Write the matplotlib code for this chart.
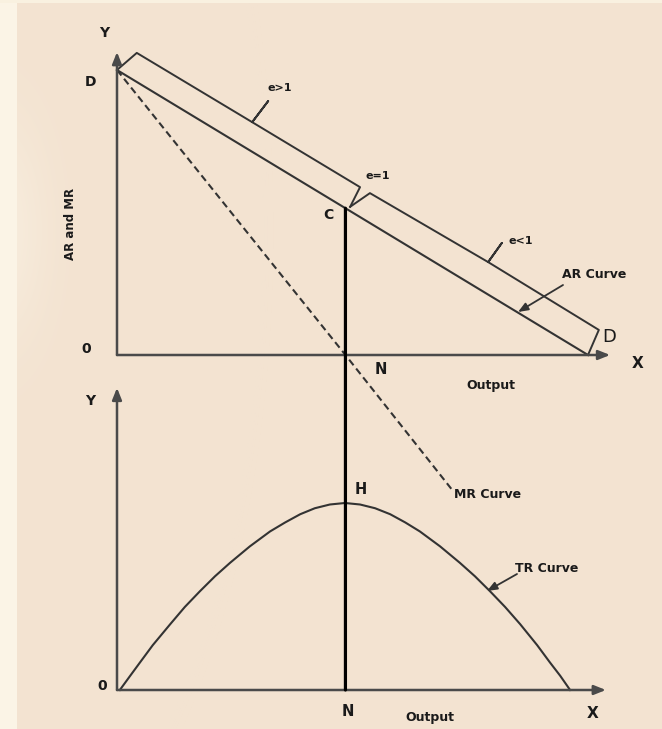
import numpy as np
import matplotlib
matplotlib.use("Agg")
import matplotlib.pyplot as plt
from matplotlib.patches import ConnectionPatch

W, H = 662, 729

# --- values (quantity / price / revenue units) ---
ar_q = [0.0, 10.0]
ar_p = [10.0, 0.0]

mr_q = [0.0, 4.85, 7.1]
mr_p = [10.0, 0.0, -4.7]

q_n = 4.85          # output N where MR = 0
p_c = 5.15          # price at point C

tr_q = [0.06, 0.28, 0.49, 0.76, 1.13, 1.44, 1.76, 2.08, 2.40, 2.82, 3.25,
        3.57, 3.89, 4.20, 4.52, 4.84, 5.16, 5.48, 5.80, 6.12, 6.43, 6.86,
        7.28, 7.60, 7.92, 8.24, 8.56, 8.92, 9.19, 9.41, 9.62]
tr_v = [0.0, 1.9, 3.7, 6.0, 8.8, 11.1, 13.2, 15.2, 17.0, 19.2, 21.2,
        22.4, 23.5, 24.3, 24.8, 25.0, 24.8, 24.3, 23.5, 22.4, 21.2, 19.2,
        17.0, 15.2, 13.2, 11.1, 8.8, 6.0, 3.7, 1.9, 0.0]

# braces above the AR line (e>1 part and e<1 part)
brace1_q = [0.0, 0.42, 2.87, 3.21, 2.87, 5.16, 4.95]
brace1_p = [10.0, 10.6, 8.17, 8.91, 8.17, 5.89, 5.2]
brace2_q = [4.95, 5.37, 7.88, 8.17, 7.88, 10.23, 10.0]
brace2_p = [5.2, 5.68, 3.26, 3.93, 3.26, 0.88, 0.0]

line_col = "#333333"
axis_col = "#4a4a4a"


def fp(x, y):
    # image pixel (top-left origin) -> figure pixels
    return (x, H - y)


fig = plt.figure(figsize=(W / 100, H / 100), dpi=100)

# background: beige panel, light strip on the left, soft glow
yy, xx = np.mgrid[0:H, 0:W]
beige = np.array([243, 227, 209]) / 255
cream = np.array([251, 244, 230]) / 255
img = np.ones((H, W, 3)) * beige
glow = 0.55 * np.exp(-(xx / 45.0) ** 2 - ((yy - 230) / 110.0) ** 2)
img = img * (1 - glow[..., None]) + cream * glow[..., None]
img[:, :17] = cream
img[:3, :] = np.array([249, 241, 224]) / 255
bg = fig.add_axes([0, 0, 1, 1])
bg.imshow(img, aspect="auto", extent=(0, W, H, 0))
bg.axis("off")

# upper panel: O at (117,355), D at (117,70), AR meets X at (588,355)
ax_top = fig.add_axes([117 / W, (H - 355) / H, 471 / W, 285 / H])
ax_top.set_xlim(0, 10)
ax_top.set_ylim(0, 10)
ax_top.axis("off")

# lower panel: O at (117,690), H peak at y=503
ax_bot = fig.add_axes([117 / W, (H - 690) / H, 471 / W, 187 / H])
ax_bot.set_xlim(0, 10)
ax_bot.set_ylim(0, 25)
ax_bot.axis("off")

arrow_kw = dict(arrowstyle="-|>,head_length=0.5,head_width=0.2",
                color=axis_col, lw=1.8, mutation_scale=14,
                shrinkA=0, shrinkB=0)

# axes with arrows
ax_top.annotate("", xy=(10.47, 0), xytext=(0, 0), arrowprops=arrow_kw,
                annotation_clip=False)
ax_top.annotate("", xy=(0, 10.63), xytext=(0, 0), arrowprops=arrow_kw,
                annotation_clip=False)
ax_bot.annotate("", xy=(10.38, 0), xytext=(0, 0), arrowprops=arrow_kw,
                annotation_clip=False)
ax_bot.annotate("", xy=(0, 40.4), xytext=(0, 0), arrowprops=arrow_kw,
                annotation_clip=False)

# AR, MR, braces
ax_top.plot(ar_q, ar_p, color=line_col, lw=1.5, clip_on=False)
ax_top.plot(mr_q, mr_p, color=line_col, lw=1.5, ls=(0, (3.4, 2.0)),
            clip_on=False)
ax_top.plot(brace1_q, brace1_p, color=line_col, lw=1.4, clip_on=False,
            solid_joinstyle="round")
ax_top.plot(brace2_q, brace2_p, color=line_col, lw=1.4, clip_on=False,
            solid_joinstyle="round")

# TR curve
ax_bot.plot(tr_q, tr_v, color=line_col, lw=1.5, clip_on=False,
            solid_joinstyle="round")

# vertical line from C down to N on the lower X axis
fig.add_artist(ConnectionPatch(xyA=(q_n, p_c), coordsA=ax_top.transData,
                               xyB=(q_n, 0), coordsB=ax_bot.transData,
                               color="black", lw=2.3))

# pointer arrows
ptr = dict(arrowstyle="-|>,head_length=0.5,head_width=0.2", color=line_col,
           lw=1.3, mutation_scale=12, shrinkA=0, shrinkB=0)
ax_top.annotate("", xy=fp(518, 312), xycoords="figure pixels",
                xytext=fp(563, 285), textcoords="figure pixels",
                arrowprops=ptr)
ax_bot.annotate("", xy=fp(487, 591), xycoords="figure pixels",
                xytext=fp(517, 574), textcoords="figure pixels",
                arrowprops=ptr)

# labels
def label(s, x, y, size=10, weight="bold", ha="center", **kw):
    fig.text(x / W, 1 - y / H, s, fontsize=size, fontweight=weight,
             ha=ha, va="center", color="#1a1a1a", family="DejaVu Sans", **kw)


label("Y", 104, 33, 10)
label("D", 90, 82, 10)
label("AR and MR", 70, 224, 8.5, rotation=90)
label("0", 86, 349, 10)
label("e>1", 280, 88, 8)
label("e=1", 378, 176, 8)
label("e<1", 521, 241, 8)
label("C", 328, 215, 10)
label("AR Curve", 562, 275, 9, ha="left")
label("D", 609, 337, 13, weight="normal")
label("X", 638, 364, 11)
label("N", 381, 370, 10.5)
label("Output", 491, 385, 9)
label("Y", 90, 401, 10)
label("H", 361, 490, 10.5)
label("MR Curve", 454, 495, 9, ha="left")
label("TR Curve", 515, 568, 9, ha="left")
label("0", 102, 686, 10)
label("N", 348, 711, 10.5)
label("Output", 430, 718, 9)
label("X", 593, 713, 11)

fig.savefig("out.png", dpi=100)
